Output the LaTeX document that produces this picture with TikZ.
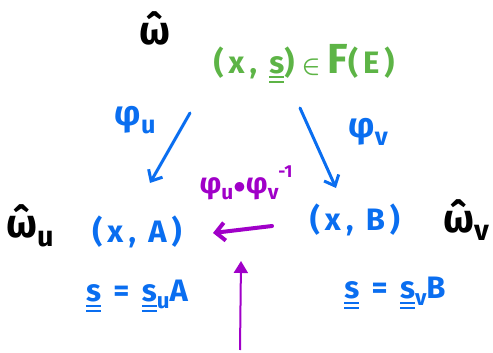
\documentclass[tikz,border=0pt]{standalone}
\usepackage{amsmath}
\usepackage{fontspec}
\setmainfont{Fira Sans}
\usetikzlibrary{arrows.meta}
\definecolor{hblue}{HTML}{0A6EF0}
\definecolor{hgreen}{HTML}{5DB446}
\definecolor{hpurple}{HTML}{A000C8}
\newcommand{\uus}{{\setbox0\hbox{s}\vtop{\hbox{s}\kern2pt\hrule width\wd0 height 2pt\kern3pt\hrule width\wd0 height 2pt}}}
\newcommand{\sbx}[1]{\raisebox{-0.22em}{\scalebox{0.72}{#1}}}
\newcommand{\spx}[1]{\raisebox{0.55em}{\scalebox{0.6}{#1}}}
\begin{document}
\begin{tikzpicture}[x=1pt,y=-1pt,
  om/.style={text=black,font=\fontsize{40}{42}\selectfont\bfseries,inner sep=0pt},
  bl/.style={text=hblue,font=\fontsize{31}{34}\selectfont\bfseries\addfontfeatures{LetterSpace=16},inner sep=0pt},
  gr/.style={text=hgreen,font=\fontsize{31}{34}\selectfont\bfseries\addfontfeatures{LetterSpace=16},inner sep=0pt},
  pl/.style={text=hblue,font=\fontsize{35}{38}\selectfont\bfseries,inner sep=0pt},
  pu/.style={text=hpurple,font=\fontsize{29}{32}\selectfont\bfseries,inner sep=0pt},
  barr/.style={draw=hblue,line width=3pt,line cap=round,-{Straight Barb[length=9pt,width=16pt,line width=3pt]}},
  parr/.style={draw=hpurple,line width=4pt,line cap=round,-{Straight Barb[length=9pt,width=18pt,line width=4pt]}},
  varr/.style={draw=hpurple,line width=2pt,-{Triangle[length=12pt,width=14pt]}}
]
\useasboundingbox (0,0) rectangle (493,353);
\node[om] (w) at (155,28) {\^{ω}};
\node[gr] (top) at (304,64) {(x, \uus)\hspace{7pt}{\fontsize{26}{26}\selectfont$\boldsymbol{\in}$}\hspace{7pt}{\fontsize{42}{42}\selectfont F}(E)};
\node[pl] (pu) at (135,120) {φ\sbx{u}};
\node[pl] (pv) at (368,132) {φ\sbx{v}};
\node[pu] (comp) at (246,183) {φ\sbx{u}$\bullet$φ\sbx{v}\spx{-1}};
\node[om] (wu) at (30,226) {\^{ω}\sbx{u}};
\node[bl] (xa) at (137,232) {(x, A)};
\node[bl] (xb) at (355,220) {(x, B)};
\node[om] (wv) at (466,220) {\^{ω}\sbx{v}};
\node[bl] (su) at (137,296) {\uus\ = \uus\sbx{u}A};
\node[bl] (sv) at (395,293) {\uus\ = \uus\sbx{v}B};
\coordinate (a1s) at (190,113); \coordinate (a1e) at (150,183);
\coordinate (a2s) at (300,108); \coordinate (a2e) at (336,188);
\coordinate (a3s) at (272,226); \coordinate (a3e) at (213,233);
\coordinate (a4s) at (240,350); \coordinate (a4e) at (241,261);
\draw[barr] (a1s) -- (a1e);
\draw[barr] (a2s) -- (a2e);
\draw[parr] (a3s) -- (a3e);
\draw[varr] (a4s) -- (a4e);
\end{tikzpicture}
\end{document}
